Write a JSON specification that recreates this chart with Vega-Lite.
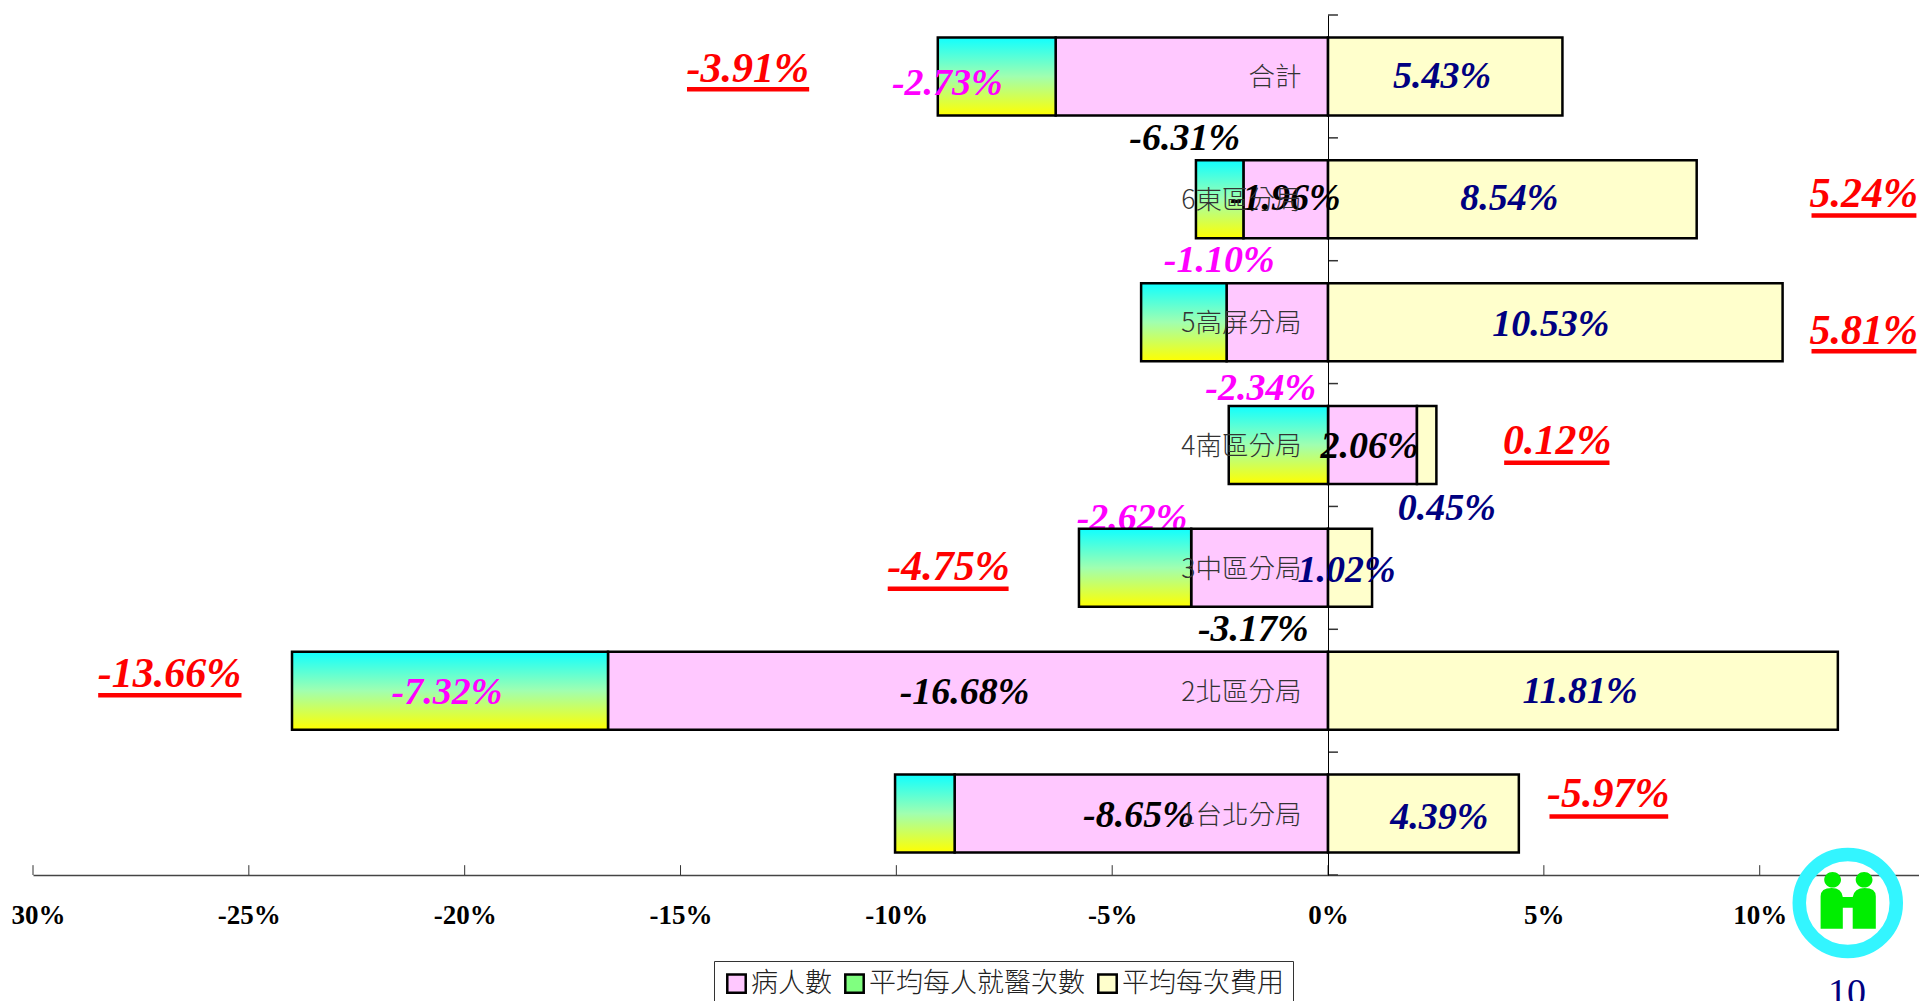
{
"$schema":"https://vega.github.io/schema/vega-lite/v6.json",
"width":1886,"height":860,
"autosize":{"type":"none"},
"padding":{"left":33,"top":15,"right":0,"bottom":126},
"background":"white",
"config":{"view":{"stroke":null}},
"datasets":{
"bars":[
{"region":"合計","series":"病人數","seq":1,"value":-6.31},
{"region":"合計","series":"平均每人就醫次數","seq":2,"value":-2.73},
{"region":"合計","series":"平均每次費用","seq":3,"value":5.43},
{"region":"6東區分局","series":"病人數","seq":1,"value":-1.96},
{"region":"6東區分局","series":"平均每人就醫次數","seq":2,"value":-1.10},
{"region":"6東區分局","series":"平均每次費用","seq":3,"value":8.54},
{"region":"5高屏分局","series":"病人數","seq":1,"value":-2.35},
{"region":"5高屏分局","series":"平均每人就醫次數","seq":2,"value":-1.98},
{"region":"5高屏分局","series":"平均每次費用","seq":3,"value":10.53},
{"region":"4南區分局","series":"病人數","seq":1,"value":2.06},
{"region":"4南區分局","series":"平均每人就醫次數","seq":2,"value":-2.3},
{"region":"4南區分局","series":"平均每次費用","seq":3,"value":0.45},
{"region":"3中區分局","series":"病人數","seq":1,"value":-3.17},
{"region":"3中區分局","series":"平均每人就醫次數","seq":2,"value":-2.6},
{"region":"3中區分局","series":"平均每次費用","seq":3,"value":1.02},
{"region":"2北區分局","series":"病人數","seq":1,"value":-16.68},
{"region":"2北區分局","series":"平均每人就醫次數","seq":2,"value":-7.32},
{"region":"2北區分局","series":"平均每次費用","seq":3,"value":11.81},
{"region":"1台北分局","series":"病人數","seq":1,"value":-8.65},
{"region":"1台北分局","series":"平均每人就醫次數","seq":2,"value":-1.38},
{"region":"1台北分局","series":"平均每次費用","seq":3,"value":4.42}
],
"labels":[
{"t":"-6.31%","g":"patients","at":-3.32,"row":0.994},
{"t":"-1.96%","g":"patients","at":-0.99,"row":1.482},
{"t":"2.06%","g":"patients","at":0.96,"row":3.504},
{"t":"-3.17%","g":"patients","at":-1.73,"row":4.989},
{"t":"-16.68%","g":"patients","at":-8.42,"row":5.506},
{"t":"-8.65%","g":"patients","at":-4.39,"row":6.503},
{"t":"-2.73%","g":"visits","at":-8.82,"row":0.545},
{"t":"-1.10%","g":"visits","at":-2.52,"row":1.99},
{"t":"-2.34%","g":"visits","at":-1.56,"row":3.026},
{"t":"-7.32%","g":"visits","at":-20.41,"row":5.506},
{"t":"5.43%","g":"cost","at":2.64,"row":0.486},
{"t":"8.54%","g":"cost","at":4.2,"row":1.482},
{"t":"10.53%","g":"cost","at":5.16,"row":2.508},
{"t":"0.45%","g":"cost","at":2.75,"row":4.002},
{"t":"1.02%","g":"cost","at":0.43,"row":4.51},
{"t":"11.81%","g":"cost","at":5.84,"row":5.496},
{"t":"4.39%","g":"cost","at":2.58,"row":6.523}
],
"totals":[
{"t":"-3.91%","at":-13.44,"row":0.426},
{"t":"5.24%","at":12.41,"row":1.442},
{"t":"5.81%","at":12.41,"row":2.558},
{"t":"0.12%","at":5.31,"row":3.454},
{"t":"-4.75%","at":-8.79,"row":4.48},
{"t":"-13.66%","at":-26.84,"row":5.347},
{"t":"-5.97%","at":6.49,"row":6.323}
],
"behind":[{"t":"-2.62%","at":-4.54,"row":4.082}],
"underlines":[
{"from":-14.85,"to":-12.02,"row":0.605},
{"from":11.2,"to":13.63,"row":1.631},
{"from":11.2,"to":13.63,"row":2.737},
{"from":4.08,"to":6.52,"row":3.644},
{"from":-10.2,"to":-7.4,"row":4.67},
{"from":-28.49,"to":-25.17,"row":5.536},
{"from":5.13,"to":7.88,"row":6.523}
],
"yTicks":[
{"from":0,"to":0.23,"row":0},{"from":0,"to":0.23,"row":1},{"from":0,"to":0.23,"row":2},{"from":0,"to":0.23,"row":3},
{"from":0,"to":0.23,"row":4},{"from":0,"to":0.23,"row":5},{"from":0,"to":0.23,"row":6},{"from":0,"to":0.23,"row":7}
],
"xTicks":[
{"at":-30,"r1":7,"r2":6.92},{"at":-25,"r1":7,"r2":6.92},{"at":-20,"r1":7,"r2":6.92},{"at":-15,"r1":7,"r2":6.92},
{"at":-10,"r1":7,"r2":6.92},{"at":-5,"r1":7,"r2":6.92},{"at":0,"r1":7,"r2":6.92},{"at":5,"r1":7,"r2":6.92},{"at":10,"r1":7,"r2":6.92}
],
"logoRing":[{"at":12.04,"row":7.228}],
"logoFigures":[{"at":12.05,"row":7.21}],
"page":[{"t":"10","at":12.02,"row":7.97}]
},
"resolve":{"scale":{"y":"independent","color":"independent"},"axis":{"y":"independent"}},
"layer":[
{
"data":{"name":"bars"},
"mark":{"type":"bar","opacity":0},
"encoding":{
"x":{"field":"value","type":"quantitative","stack":"zero","title":null,
"scale":{"domain":[-30,13.69],"nice":false,"zero":false},
"axis":{"orient":"bottom","values":[-30,-25,-20,-15,-10,-5,0,5,10],"grid":false,"ticks":false,"domainColor":"#444","domainWidth":1.5,
"labelExpr":"datum.value===-30?'30%':datum.value+'%'",
"labelOffset":{"condition":{"test":"datum.value===-30","value":5},"value":0},
"labelFont":"Liberation Serif","labelFontWeight":"bold","labelFontSize":27,"labelColor":"black","labelPadding":27,"labelFlush":false,"labelOverlap":false}},
"y":{"field":"region","type":"nominal","sort":["合計","6東區分局","5高屏分局","4南區分局","3中區分局","2北區分局","1台北分局"],
"scale":{"paddingInner":0.365,"paddingOuter":0.1825},
"title":null,
"axis":{"orient":"left","offset":-1295,"zindex":1,"ticks":false,"domainColor":"black","domainWidth":1,"labelPadding":27,"labelOffset":2,"labelFont":"Noto Sans CJK TC","labelFontSize":26.5,"labelFontWeight":300,"labelColor":"#333","labelLimit":300}}
}
},
{
"data":{"name":"yTicks"},
"mark":{"type":"rule","color":"#333","strokeWidth":1.5},
"encoding":{
"x":{"field":"from","type":"quantitative","title":null,"scale":{"domain":[-30,13.69],"nice":false,"zero":false}},
"x2":{"field":"to"},
"y":{"field":"row","type":"quantitative","title":null,"scale":{"domain":[0,7],"reverse":true,"nice":false},"axis":null}
}
},
{
"data":{"name":"xTicks"},
"mark":{"type":"rule","color":"#333","strokeWidth":1},
"encoding":{
"x":{"field":"at","type":"quantitative","title":null,"scale":{"domain":[-30,13.69],"nice":false,"zero":false}},
"y":{"field":"r1","type":"quantitative","title":null,"scale":{"domain":[0,7],"reverse":true,"nice":false},"axis":null},
"y2":{"field":"r2"}
}
},
{
"data":{"name":"behind"},
"mark":{"type":"text","font":"Liberation Serif","fontStyle":"italic","fontWeight":"bold","fontSize":38,"baseline":"middle","align":"center","dy":2,"color":"#FF00FF"},
"encoding":{
"x":{"field":"at","type":"quantitative","title":null,"scale":{"domain":[-30,13.69],"nice":false,"zero":false}},
"y":{"field":"row","type":"quantitative","title":null,"scale":{"domain":[0,7],"reverse":true,"nice":false},"axis":null},
"text":{"field":"t"}
}
},
{
"data":{"name":"bars"},
"mark":{"type":"bar","stroke":"black","strokeWidth":2.5},
"encoding":{
"y":{"field":"region","type":"nominal","sort":["合計","6東區分局","5高屏分局","4南區分局","3中區分局","2北區分局","1台北分局"],
"scale":{"paddingInner":0.365,"paddingOuter":0.1825},"title":null,"axis":null},
"x":{"field":"value","type":"quantitative","stack":"zero","title":null,
"scale":{"domain":[-30,13.69],"nice":false,"zero":false}},
"order":{"field":"seq","type":"quantitative"},
"fill":{
"condition":{"test":"datum.seq===2","value":{"gradient":"linear","x1":0,"y1":0,"x2":0,"y2":1,"stops":[{"offset":0,"color":"#10FFFF"},{"offset":0.5,"color":"#A0FFB0"},{"offset":1,"color":"#FFFF00"}]}},
"field":"series","type":"nominal","title":null,
"scale":{"domain":["病人數","平均每人就醫次數","平均每次費用"],"range":["#FFC8FF","#80FF80","#FFFFCC"]},
"legend":{"orient":"none","legendX":681,"legendY":946,"direction":"horizontal","columns":3,"strokeColor":"#333","fillColor":"white","padding":9,"symbolType":"square","symbolSize":340,"labelFont":"Noto Sans CJK TC","labelFontSize":27,"labelFontWeight":300,"labelColor":"#222","labelLimit":400,"columnPadding":8,"labelOffset":1,
"encoding":{"symbols":{
"fill":{"condition":[{"test":"datum.value==='平均每人就醫次數'","value":{"gradient":"linear","x1":0,"y1":0,"x2":0,"y2":1,"stops":[{"offset":0,"color":"#10FFFF"},{"offset":0.5,"color":"#A0FFB0"},{"offset":1,"color":"#FFFF00"}]}},{"test":"datum.value==='病人數'","value":"#FFC8FF"}],"value":"#FFFFCC"},
"stroke":{"value":"black"},
"strokeWidth":{"value":2.5}
}}}
}
}
},
{
"data":{"name":"labels"},
"mark":{"type":"text","font":"Liberation Serif","fontStyle":"italic","fontWeight":"bold","fontSize":38,"baseline":"middle","align":"center","dy":2},
"encoding":{
"x":{"field":"at","type":"quantitative","title":null,"scale":{"domain":[-30,13.69],"nice":false,"zero":false}},
"y":{"field":"row","type":"quantitative","title":null,"scale":{"domain":[0,7],"reverse":true,"nice":false},"axis":null},
"text":{"field":"t"},
"color":{"field":"g","type":"nominal","legend":null,"scale":{"domain":["patients","visits","cost"],"range":["#000000","#FF00FF","#000080"]}}
}
},
{
"data":{"name":"totals"},
"mark":{"type":"text","font":"Liberation Serif","fontStyle":"italic","fontWeight":"bold","fontSize":42,"baseline":"middle","align":"center","dy":2,"color":"#FF0000"},
"encoding":{
"x":{"field":"at","type":"quantitative","title":null,"scale":{"domain":[-30,13.69],"nice":false,"zero":false}},
"y":{"field":"row","type":"quantitative","title":null,"scale":{"domain":[0,7],"reverse":true,"nice":false},"axis":null},
"text":{"field":"t"}
}
},
{
"data":{"name":"underlines"},
"mark":{"type":"rule","color":"#FF0000","strokeWidth":4.5},
"encoding":{
"x":{"field":"from","type":"quantitative","title":null,"scale":{"domain":[-30,13.69],"nice":false,"zero":false}},
"x2":{"field":"to"},
"y":{"field":"row","type":"quantitative","title":null,"scale":{"domain":[0,7],"reverse":true,"nice":false},"axis":null}
}
},
{
"data":{"name":"logoRing"},
"mark":{"type":"point","shape":"circle","size":9409,"filled":false,"stroke":"#33F5FF","strokeWidth":13.5,"opacity":1},
"encoding":{
"x":{"field":"at","type":"quantitative","title":null,"scale":{"domain":[-30,13.69],"nice":false,"zero":false}},
"y":{"field":"row","type":"quantitative","title":null,"scale":{"domain":[0,7],"reverse":true,"nice":false},"axis":null}
}
},
{
"data":{"name":"logoFigures"},
"mark":{"type":"point","filled":true,"opacity":1,"color":"#00EE00","size":3600,"shape":"M-0.92,0.93 L-0.92,-0.15 Q-0.92,-0.43 -0.55,-0.43 Q-0.22,-0.43 -0.18,-0.13 L0.15,-0.13 Q0.2,-0.43 0.55,-0.43 Q0.92,-0.43 0.92,-0.15 L0.92,0.93 L0.15,0.93 L0.15,0.23 L-0.18,0.23 L-0.18,0.93 Z M-0.8,-0.7 A0.28,0.26 0 1 1 -0.24,-0.7 A0.28,0.26 0 1 1 -0.8,-0.7 Z M0.25,-0.7 A0.28,0.26 0 1 1 0.81,-0.7 A0.28,0.26 0 1 1 0.25,-0.7 Z"},
"encoding":{
"x":{"field":"at","type":"quantitative","title":null,"scale":{"domain":[-30,13.69],"nice":false,"zero":false}},
"y":{"field":"row","type":"quantitative","title":null,"scale":{"domain":[0,7],"reverse":true,"nice":false},"axis":null}
}
},
{
"data":{"name":"page"},
"mark":{"type":"text","font":"Liberation Serif","fontSize":38,"baseline":"middle","align":"center","color":"#000080"},
"encoding":{
"x":{"field":"at","type":"quantitative","title":null,"scale":{"domain":[-30,13.69],"nice":false,"zero":false}},
"y":{"field":"row","type":"quantitative","title":null,"scale":{"domain":[0,7],"reverse":true,"nice":false},"axis":null},
"text":{"field":"t"}
}
}
]
}
